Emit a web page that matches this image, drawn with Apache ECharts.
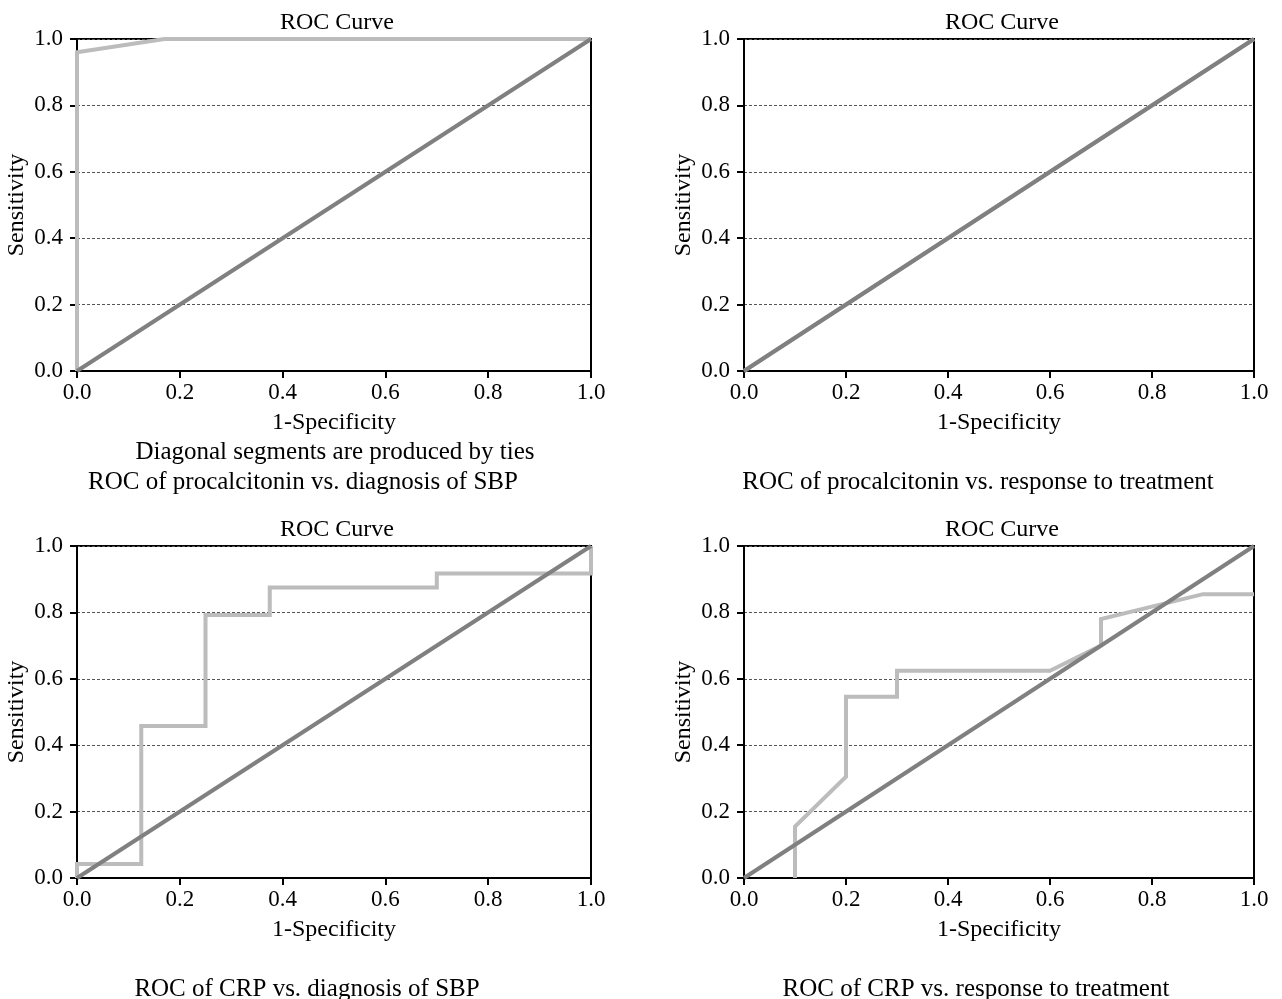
<!DOCTYPE html>
<html>
<head>
<meta charset="UTF-8">
<title>ROC Curves</title>
<script src="https://cdn.jsdelivr.net/npm/echarts@6/dist/echarts.min.js"></script>
<style>
  html, body { margin: 0; padding: 0; background: #fff; }
  #chart { width: 1282px; height: 999px; }
</style>
</head>
<body>
<div id="chart"></div>
<script>
// ROC curve points (1-specificity, sensitivity)
const pctSbpX = [0, 0, 0.17, 1.0];
const pctSbpY = [0, 0.96, 1.0, 1.0];
const pctRespX = [0, 1.0];
const pctRespY = [0, 1.0];
const crpSbpX = [0, 0, 0.125, 0.125, 0.25, 0.25, 0.375, 0.375, 0.70, 0.70, 1.0, 1.0];
const crpSbpY = [0, 0.042, 0.042, 0.458, 0.458, 0.792, 0.792, 0.875, 0.875, 0.917, 0.917, 1.0];
const crpRespX = [0.1, 0.1, 0.2, 0.2, 0.3, 0.3, 0.6, 0.7, 0.7, 0.9, 1.0];
const crpRespY = [0, 0.155, 0.305, 0.546, 0.546, 0.624, 0.624, 0.70, 0.78, 0.855, 0.855];
const refX = [0, 1];
const refY = [0, 1];
const ticks = ['0.0', '0.2', '0.4', '0.6', '0.8', '1.0'];

const captions = [
    'ROC of procalcitonin vs. diagnosis of SBP',
    'ROC of procalcitonin vs. response to treatment',
    'ROC of CRP vs. diagnosis of SBP',
    'ROC of CRP vs. response to treatment'
];
const captionShift = [-36, -26, -32, -28];
const curves = [[pctSbpX, pctSbpY], [pctRespX, pctRespY], [crpSbpX, crpSbpY], [crpRespX, crpRespY]];

const font = '"Liberation Serif", "DejaVu Serif", serif';
const grids = [
    {left: 77, top: 39, width: 514, height: 332},
    {left: 744, top: 39, width: 510, height: 332},
    {left: 77, top: 546, width: 514, height: 332},
    {left: 744, top: 546, width: 510, height: 332}
];

function zip(xs, ys) {
    return xs.map((x, i) => [x, ys[i]]);
}

function txt(size) {
    return {fontFamily: font, fontSize: size, fontWeight: 'normal', color: '#000'};
}

const option = {
    backgroundColor: '#fff',
    animation: false,
    textStyle: {fontFamily: font},
    grid: grids.map(g => Object.assign({show: true, borderColor: '#000', borderWidth: 2, backgroundColor: 'transparent'}, g)),
    title: [],
    xAxis: [],
    yAxis: [],
    series: []
};

grids.forEach((g, i) => {
    const cx = g.left + g.width / 2;
    option.title.push({
        text: 'ROC Curve', left: cx - 2, top: g.top - 33, textAlign: 'center',
        textStyle: txt(24)
    });
    option.title.push({
        text: captions[i], left: cx + captionShift[i], top: g.top + 426, textAlign: 'center',
        textStyle: txt(25)
    });
    option.xAxis.push({
        type: 'value', gridIndex: i, min: 0, max: 1, interval: 0.2,
        name: '1-Specificity', nameLocation: 'middle', nameGap: 40,
        nameTextStyle: txt(24),
        axisLine: {onZero: false, lineStyle: {color: '#000', width: 2}},
        axisTick: {show: true, inside: false, length: 7, lineStyle: {color: '#000', width: 2}},
        axisLabel: {fontFamily: font, fontSize: 23, color: '#000', margin: 10,
            formatter: v => ticks[Math.round(v * 5)]},
        splitLine: {show: false}
    });
    option.yAxis.push({
        type: 'value', gridIndex: i, min: 0, max: 1, interval: 0.2,
        name: 'Sensitivity', nameLocation: 'middle', nameGap: 48,
        nameTextStyle: txt(24),
        axisLine: {onZero: false, lineStyle: {color: '#000', width: 2}},
        axisTick: {show: true, inside: false, length: 7, lineStyle: {color: '#000', width: 2}},
        axisLabel: {fontFamily: font, fontSize: 23, color: '#000', margin: 14,
            formatter: v => ticks[Math.round(v * 5)]},
        splitLine: {show: true, lineStyle: {color: '#555', width: 1, type: [3, 2]}}
    });
    option.series.push({
        type: 'line', xAxisIndex: i, yAxisIndex: i, symbol: 'none',
        data: zip(curves[i][0], curves[i][1]),
        lineStyle: {color: '#bcbcbc', width: 4, join: 'miter'}
    });
    option.series.push({
        type: 'line', xAxisIndex: i, yAxisIndex: i, symbol: 'none',
        data: zip(refX, refY),
        lineStyle: {color: '#808080', width: 4}
    });
});

option.title.push({
    text: 'Diagonal segments are produced by ties', left: 330, top: 435, textAlign: 'center',
    textStyle: txt(25)
});

const chart = echarts.init(document.getElementById('chart'));
chart.setOption(option);
</script>
</body>
</html>
